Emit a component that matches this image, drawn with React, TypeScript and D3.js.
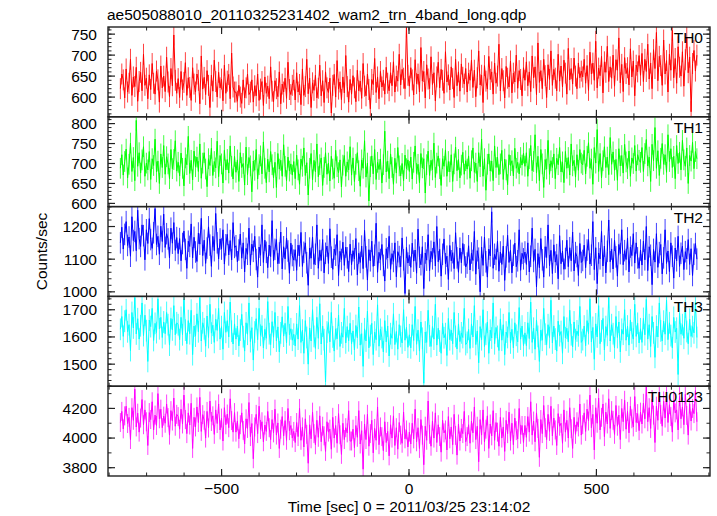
import React from 'react';
import * as d3 from 'd3';

const TITLE = 'ae505088010_20110325231402_wam2_trn_4band_long.qdp';
const X_LABEL = 'Time [sec] 0 = 2011/03/25 23:14:02';
const Y_LABEL = 'Counts/sec';
const T_START = -770;
const T_END = 768;

const th0 = [
  620, 655, 641, 598, 667, 612, 633, 690, 604, 648, 625, 671, 590, 637, 659, 615, 702, 628, 645, 596,
  653, 618, 680, 633, 607, 662, 641, 588, 674, 622, 650, 613, 695, 636, 601, 668, 627, 748, 640, 609,
  644, 599, 661, 617, 635, 682, 604, 646, 623, 592, 670, 631, 612, 655, 640, 584, 698, 619, 647, 606,
  663, 628, 575, 652, 614, 688, 637, 600, 659, 622, 643, 591, 676, 609, 638, 654, 596, 705, 624, 612,
  612, 590, 628, 600, 585, 641, 598, 622, 655, 606, 612, 641, 588, 627, 603, 655, 592, 619, 637, 580,
  648, 609, 626, 596, 672, 614, 589, 639, 620, 601, 660, 584, 631, 612, 645, 597, 683, 618, 606, 628,
  641, 593, 658, 612, 630, 582, 667, 604, 625, 690, 608, 645, 575, 634, 616, 652, 598, 621, 676, 603,
  639, 587, 660, 622, 611, 645, 562, 628, 654, 600, 687, 619, 636, 594, 648, 610, 699, 625, 588, 642,
  607, 651, 622, 589, 664, 615, 638, 597, 680, 626, 603, 655, 618, 572, 642, 630, 692, 611, 648, 596,
  661, 624, 640, 607, 671, 633, 615, 658, 627, 684, 612, 650, 638, 702, 629, 666, 645, 620, 767, 652,
  626, 670, 641, 605, 689, 632, 655, 612, 718, 638, 661, 598, 677, 643, 620, 696, 630, 658, 591, 648,
  683, 622, 666, 640, 609, 708, 636, 653, 617, 672, 644, 599, 690, 627, 660, 614, 679, 647, 631, 668,
  612, 657, 640, 688, 623, 664, 601, 646, 710, 629, 652, 587, 675, 638, 619, 697, 642, 660, 607, 681,
  633, 650, 726, 615, 668, 639, 598, 673, 645, 624, 686, 610, 657, 636, 700, 621, 663, 642, 603, 670,
  640, 684, 627, 660, 613, 698, 646, 672, 606, 729, 635, 663, 620, 690, 651, 599, 677, 642, 710, 628,
  666, 645, 615, 702, 638, 674, 624, 688, 657, 607, 716, 641, 668, 631, 693, 650, 620, 681, 646, 662,
  648, 690, 633, 675, 616, 707, 655, 681, 640, 733, 622, 669, 651, 697, 610, 684, 659, 721, 637, 672,
  645, 700, 626, 689, 664, 741, 634, 678, 613, 694, 656, 670, 629, 715, 648, 686, 603, 676, 660, 699,
  652, 704, 637, 690, 661, 726, 643, 681, 620, 713, 668, 754, 639, 697, 675, 628, 736, 655, 687, 612,
  702, 664, 759, 646, 692, 633, 720, 671, 650, 708, 626, 689, 742, 658, 695, 565, 680, 711, 662, 700,
];

const th1 = [
  688, 722, 671, 705, 736, 664, 698, 751, 680, 715, 657, 808, 693, 727, 676, 709, 742, 668, 701, 684,
  730, 660, 712, 695, 761, 679, 706, 650, 724, 690, 745, 673, 717, 699, 662, 735, 687, 710, 757, 681,
  703, 669, 726, 688, 644, 714, 697, 768, 675, 708, 659, 731, 692, 716, 680, 749, 663, 701, 727, 686,
  642, 712, 695, 738, 670, 705, 689, 756, 667, 720, 699, 651, 733, 684, 710, 676, 744, 693, 661, 718,
  678, 709, 655, 727, 690, 700, 646, 741, 672, 715, 694, 629, 706, 683, 735, 661, 697, 719, 674, 754,
  688, 652, 711, 679, 730, 697, 664, 703, 640, 725, 686, 708, 668, 747, 693, 657, 716, 681, 699, 671,
  705, 662, 721, 684, 648, 711, 693, 739, 670, 702, 621, 688, 725, 659, 708, 679, 749, 667, 697, 714,
  645, 690, 727, 673, 701, 656, 718, 686, 663, 733, 692, 677, 709, 641, 696, 720, 668, 704, 684, 742,
  671, 714, 655, 698, 727, 682, 643, 709, 688, 757, 666, 701, 606, 692, 719, 674, 735, 660, 703, 685,
  711, 651, 697, 781, 679, 706, 662, 724, 690, 648, 713, 676, 740, 694, 669, 700, 657, 721, 687, 709,
  680, 716, 661, 703, 744, 675, 698, 652, 725, 689, 712, 626, 697, 731, 670, 708, 684, 751, 665, 701,
  719, 687, 645, 712, 693, 734, 668, 705, 679, 722, 655, 699, 741, 682, 710, 664, 696, 728, 673, 707,
  686, 719, 663, 707, 739, 678, 701, 655, 727, 692, 761, 668, 712, 633, 698, 724, 681, 706, 657, 744,
  690, 716, 672, 699, 733, 660, 711, 684, 647, 722, 695, 707, 669, 738, 688, 703, 674, 715, 696, 726,
  693, 727, 668, 712, 745, 682, 705, 772, 676, 718, 657, 735, 699, 640, 710, 686, 758, 673, 707, 690,
  724, 662, 713, 697, 740, 679, 704, 652, 730, 688, 715, 671, 749, 694, 708, 666, 722, 683, 735, 701,
  697, 733, 674, 718, 752, 688, 711, 648, 740, 701, 785, 680, 725, 664, 707, 742, 690, 716, 672, 765,
  698, 729, 683, 710, 658, 737, 694, 720, 676, 748, 704, 687, 731, 668, 714, 700, 745, 681, 722, 708,
  703, 740, 680, 725, 760, 694, 716, 655, 748, 707, 790, 688, 732, 670, 713, 750, 698, 722, 678, 772,
  705, 737, 690, 718, 662, 745, 700, 728, 684, 758, 709, 693, 739, 650, 720, 706, 753, 687, 730, 712,
];

const th2 = [
  1150, 1198, 1131, 1176, 1215, 1142, 1168, 1109, 1230, 1157, 1185, 1126, 1250, 1163, 1139, 1205, 1172, 1098, 1190, 1148,
  1224, 1160, 1133, 1181, 1255, 1145, 1170, 1115, 1201, 1154, 1238, 1136, 1178, 1162, 1104, 1195, 1149, 1212, 1127, 1166,
  1117, 1163, 1095, 1148, 1186, 1130, 1072, 1155, 1139, 1208, 1104, 1167, 1122, 1093, 1180, 1146, 1225, 1111, 1158, 1087,
  1134, 1199, 1143, 1078, 1170, 1126, 1240, 1150, 1101, 1162, 1131, 1190, 1085, 1144, 1176, 1113, 1157, 1098, 1212, 1136,
  1141, 1092, 1128, 1177, 1103, 1150, 1061, 1133, 1115, 1195, 1082, 1146, 1124, 1170, 1099, 1045, 1137, 1112, 1205, 1090,
  1158, 1121, 1074, 1143, 1108, 1218, 1095, 1130, 1160, 1086, 1119, 1183, 1070, 1138, 1101, 1165, 1125, 1057, 1149, 1111,
  1097, 1129, 1066, 1143, 1110, 1182, 1078, 1121, 1150, 1089, 1020, 1134, 1103, 1168, 1084, 1115, 1205, 1072, 1127, 1096,
  1160, 1058, 1118, 1140, 1087, 1193, 1106, 1069, 1131, 1112, 1175, 1050, 1124, 1099, 1152, 1081, 1137, 1104, 1062, 1146,
  1083, 1126, 1101, 1163, 1052, 1118, 1090, 1140, 1071, 1188, 1107, 1036, 1129, 1095, 1155, 1078, 1112, 1210, 1060, 1121,
  1099, 1145, 1081, 1033, 1132, 1104, 1170, 1069, 1117, 1093, 1150, 1046, 1123, 1108, 1077, 1165, 1098, 995, 1136, 1088,
  1112, 1075, 1149, 1094, 1128, 1057, 1192, 1106, 1083, 1138, 1010, 1119, 1097, 1175, 1065, 1124, 1101, 1153, 1079, 1200,
  1092, 1130, 1048, 1115, 1162, 1086, 1109, 1038, 1142, 1095, 1120, 1071, 1181, 1104, 1060, 1134, 1089, 1148, 1113, 1076,
  1088, 1141, 1067, 1119, 1096, 1185, 1054, 1126, 1103, 1000, 1137, 1081, 1168, 1092, 1045, 1131, 1110, 1245, 1072, 1115,
  1099, 1155, 1063, 1122, 1084, 1140, 1035, 1107, 1173, 1090, 1127, 1058, 1112, 1149, 1077, 1095, 1190, 1066, 1118, 1101,
  1122, 1084, 1150, 1061, 1109, 1195, 1093, 1130, 1015, 1117, 1074, 1163, 1098, 1045, 1138, 1105, 1205, 1080, 1127, 1056,
  1144, 1091, 1114, 1040, 1172, 1086, 1125, 1069, 1102, 1158, 1077, 1135, 1095, 1183, 1064, 1120, 1108, 1050, 1148, 1090,
  1096, 1143, 1074, 1128, 1160, 1085, 1112, 1215, 1068, 1135, 1025, 1119, 1101, 1185, 1079, 1140, 1058, 1124, 1220, 1092,
  1131, 1070, 1158, 1107, 1048, 1145, 1117, 1190, 1083, 1126, 1099, 1165, 1061, 1137, 1111, 1178, 1088, 1150, 1104, 1072,
  1128, 1082, 1155, 1098, 1200, 1065, 1138, 1112, 1022, 1130, 1091, 1178, 1075, 1120, 1145, 1055, 1104, 1190, 1087, 1125,
  1062, 1150, 1109, 1042, 1134, 1095, 1170, 1078, 1118, 1140, 1068, 1123, 1101, 1160, 1084, 1132, 1050, 1115, 1148, 1100,
];

const th3 = [
  1628, 1675, 1602, 1658, 1700, 1619, 1645, 1550, 1690, 1633, 1745, 1611, 1667, 1592, 1641, 1725, 1605, 1680, 1623, 1510,
  1662, 1638, 1705, 1587, 1650, 1616, 1740, 1630, 1672, 1598, 1655, 1612, 1690, 1645, 1570, 1668, 1626, 1715, 1608, 1652,
  1645, 1590, 1672, 1608, 1738, 1625, 1575, 1660, 1612, 1698, 1535, 1640, 1603, 1685, 1619, 1745, 1585, 1652, 1630, 1566,
  1677, 1598, 1720, 1614, 1643, 1580, 1665, 1624, 1705, 1592, 1638, 1555, 1690, 1617, 1660, 1600, 1728, 1621, 1574, 1648,
  1592, 1640, 1567, 1625, 1683, 1601, 1548, 1652, 1610, 1725, 1583, 1634, 1515, 1618, 1667, 1590, 1705, 1606, 1641, 1560,
  1628, 1595, 1730, 1612, 1572, 1656, 1599, 1690, 1585, 1637, 1545, 1615, 1674, 1603, 1650, 1578, 1712, 1608, 1630, 1588,
  1610, 1567, 1648, 1592, 1715, 1580, 1625, 1540, 1660, 1598, 1500, 1633, 1585, 1700, 1602, 1558, 1672, 1595, 1722, 1574,
  1640, 1590, 1435, 1618, 1653, 1582, 1690, 1600, 1548, 1630, 1593, 1680, 1565, 1615, 1599, 1705, 1578, 1638, 1586, 1650,
  1575, 1622, 1552, 1642, 1597, 1710, 1570, 1612, 1492, 1630, 1585, 1695, 1560, 1605, 1650, 1535, 1618, 1590, 1718, 1566,
  1628, 1598, 1545, 1660, 1582, 1640, 1530, 1612, 1595, 1685, 1572, 1620, 1555, 1645, 1602, 1578, 1700, 1588, 1635, 1562,
  1608, 1560, 1645, 1587, 1712, 1573, 1625, 1548, 1655, 1595, 1430, 1618, 1580, 1698, 1604, 1565, 1638, 1592, 1720, 1570,
  1632, 1585, 1540, 1650, 1597, 1612, 1532, 1668, 1590, 1625, 1575, 1690, 1602, 1556, 1648, 1583, 1615, 1598, 1705, 1572,
  1580, 1628, 1558, 1648, 1600, 1715, 1572, 1622, 1505, 1638, 1590, 1700, 1565, 1610, 1655, 1540, 1625, 1596, 1725, 1575,
  1635, 1602, 1550, 1665, 1588, 1645, 1535, 1618, 1598, 1690, 1578, 1628, 1560, 1652, 1606, 1582, 1708, 1592, 1640, 1568,
  1615, 1568, 1652, 1594, 1728, 1580, 1632, 1555, 1662, 1602, 1510, 1625, 1588, 1705, 1610, 1572, 1645, 1598, 1735, 1578,
  1640, 1592, 1548, 1658, 1605, 1620, 1540, 1675, 1597, 1632, 1582, 1698, 1608, 1563, 1655, 1590, 1622, 1604, 1712, 1580,
  1590, 1640, 1568, 1660, 1612, 1740, 1582, 1635, 1518, 1648, 1600, 1715, 1575, 1622, 1668, 1552, 1638, 1606, 1745, 1585,
  1645, 1612, 1560, 1675, 1598, 1655, 1545, 1628, 1610, 1700, 1588, 1640, 1570, 1662, 1615, 1592, 1720, 1602, 1650, 1578,
  1630, 1580, 1668, 1608, 1738, 1592, 1645, 1565, 1675, 1615, 1525, 1640, 1600, 1725, 1622, 1585, 1658, 1610, 1735, 1590,
  1652, 1605, 1560, 1672, 1618, 1632, 1462, 1688, 1610, 1645, 1595, 1710, 1620, 1575, 1665, 1602, 1638, 1615, 1728, 1598,
];

const th0123 = [
  4105, 4180, 4062, 4150, 4215, 4098, 4140, 3990, 4205, 4120, 4330, 4075, 4168, 4040, 4135, 4260, 4090, 4190, 4110, 3950,
  4172, 4125, 4245, 4055, 4155, 4085, 4300, 4130, 4195, 4070, 4148, 4100, 4230, 4138, 4020, 4185, 4115, 4270, 4080, 4160,
  4145, 4060, 4195, 4095, 4290, 4125, 4030, 4170, 4088, 4235, 3930, 4140, 4075, 4210, 4105, 4275, 4045, 4158, 4120, 4000,
  4180, 4068, 4250, 4112, 4150, 4025, 4190, 4098, 4230, 4055, 4135, 3980, 4205, 4090, 4162, 4070, 4265, 4118, 4040, 4172,
  4040, 4115, 3995, 4090, 4170, 4052, 3960, 4130, 4065, 4240, 4010, 4098, 3860, 4075, 4160, 4030, 4215, 4058, 4110, 3975,
  4088, 4045, 4180, 4070, 3990, 4125, 4035, 4195, 4020, 4102, 3930, 4060, 4145, 4015, 4118, 3985, 4200, 4050, 4085, 4000,
  4045, 3970, 4105, 4010, 4200, 3985, 4075, 3940, 4130, 4025, 3830, 4090, 3995, 4175, 4030, 3955, 4120, 4005, 4150, 3975,
  4080, 4015, 3910, 4110, 4040, 4060, 3925, 4140, 4000, 4085, 3965, 4165, 4022, 3890, 4100, 3990, 4070, 4035, 4185, 3980,
  3980, 4060, 3935, 4085, 4005, 4185, 3960, 4050, 3790, 4095, 3990, 4160, 3945, 4030, 4120, 3900, 4065, 3985, 4210, 3955,
  4075, 4010, 3915, 4110, 3970, 4045, 3880, 4090, 4000, 4150, 3950, 4070, 3925, 4105, 4020, 3965, 4175, 3995, 4055, 3940,
  4040, 3960, 4100, 3995, 4195, 3975, 4070, 3930, 4125, 4020, 3820, 4080, 3985, 4250, 4025, 3945, 4115, 4000, 4170, 3970,
  4090, 4010, 3905, 4120, 4035, 4055, 3920, 4145, 3995, 4075, 3955, 4160, 4018, 3885, 4095, 3980, 4065, 4030, 4180, 3975,
  4010, 4090, 3965, 4115, 4035, 4210, 3990, 4080, 3840, 4125, 4020, 4190, 3975, 4060, 4150, 3930, 4095, 4015, 4185, 3985,
  4105, 4040, 3945, 4140, 4000, 4075, 3910, 4120, 4030, 4175, 3980, 4100, 3955, 4135, 4050, 3995, 4200, 4025, 4085, 3970,
  4085, 4005, 4145, 4040, 4245, 4020, 4115, 3975, 4170, 4065, 3870, 4125, 4030, 4220, 4070, 3990, 4160, 4045, 4215, 4015,
  4135, 4055, 3950, 4165, 4080, 4100, 3965, 4190, 4040, 4120, 4000, 4205, 4063, 3930, 4140, 4025, 4110, 4075, 4230, 4020,
  4090, 4170, 4045, 4195, 4115, 4290, 4070, 4160, 3920, 4205, 4100, 4270, 4055, 4140, 4230, 4010, 4175, 4095, 4265, 4065,
  4185, 4120, 4025, 4220, 4080, 4155, 3990, 4200, 4110, 4255, 4060, 4180, 4035, 4215, 4130, 4075, 4280, 4105, 4165, 4050,
  4175, 4095, 4235, 4130, 4345, 4110, 4205, 4065, 4260, 4155, 3970, 4215, 4120, 4310, 4160, 4080, 4250, 4135, 4290, 4105,
  4225, 4145, 4040, 4255, 4170, 4190, 4055, 4280, 4130, 4210, 4090, 4295, 4153, 4020, 4230, 4115, 4200, 4165, 4320, 4110,
];

// 1-sigma error of each bin (counts/sec), one per band
const panelErrors = [25, 26, 33, 40, 64];

const panelNames = ['TH0', 'TH1', 'TH2', 'TH3', 'TH0123'];
const panelData = [th0, th1, th2, th3, th0123];
const panelColors = ['#ff0000', '#00ff00', '#0000ff', '#00ffff', '#ff00ff'];
const panelDomains: [number, number][] = [[553, 767], [592, 817], [986, 1261], [1419, 1749], [3744, 4350]];
const panelMajor = [
  [600, 650, 700, 750],
  [600, 650, 700, 750, 800],
  [1000, 1100, 1200],
  [1500, 1600, 1700],
  [3800, 4000, 4200],
];
const panelMinorStep = [10, 10, 20, 20, 100];
const xMajorTicks = [-500, 0, 500];
const xMinorStep = 100;
const xDomain: [number, number] = [-803, 803];

const W = 717;
const H = 516;
const LEFT = 108;
const RIGHT = 710;
const TOP = 27;
const PH = 89.8;
const FONT = '"Liberation Sans", Arial, Helvetica, sans-serif';

export default function App() {
  const x = d3.scaleLinear().domain(xDomain).range([LEFT, RIGHT]);
  const xMinor = d3.range(Math.ceil(xDomain[0] / xMinorStep) * xMinorStep, xDomain[1] + 0.001, xMinorStep);
  const bottom = TOP + PH * 5;

  return (
    <svg width={W} height={H} style={{ position: 'absolute', left: 0, top: 0, background: '#fff' }} fontFamily={FONT}>
      <rect x={0} y={0} width={W} height={H} fill="#fff" />
      <text x={107} y={20} fontSize={15.5} fill="#000">{TITLE}</text>
      {panelNames.map((name, pi) => {
        const y0 = TOP + pi * PH;
        const y1 = y0 + PH;
        const data = panelData[pi];
        const err = panelErrors[pi];
        const dom = panelDomains[pi];
        const y = d3.scaleLinear().domain(dom).range([y1, y0]);
        const n = data.length;
        const tScale = d3.scaleLinear().domain([0, n - 1]).range([T_START, T_END]);
        const line = d3.line<number>().x((_, i) => x(tScale(i))).y((d) => y(d));
        const errPath = data
          .map((d, i) => {
            const px = x(tScale(i)).toFixed(2);
            return `M${px},${y(d + err).toFixed(2)}V${y(d - err).toFixed(2)}`;
          })
          .join('');
        const step = panelMinorStep[pi];
        const yMinor = d3.range(Math.ceil(dom[0] / step) * step, dom[1] + 0.001, step);
        const clipId = `clip${pi}`;
        return (
          <g key={name}>
            <defs>
              <clipPath id={clipId}>
                <rect x={LEFT} y={y0} width={RIGHT - LEFT} height={PH} />
              </clipPath>
            </defs>
            <g clipPath={`url(#${clipId})`}>
              <path d={errPath} fill="none" stroke={panelColors[pi]} strokeWidth={1} strokeOpacity={0.75} />
              <path d={line(data) || ''} fill="none" stroke={panelColors[pi]} strokeWidth={1} strokeLinejoin="bevel" />
            </g>
            <text x={703} y={y0 + 16} fontSize={15.5} textAnchor="end" fill="#000">{name}</text>
            {yMinor.map((v) => (
              <g key={`ym${v}`} stroke="#222" strokeWidth={1}>
                <line x1={LEFT} x2={LEFT + 3.5} y1={y(v)} y2={y(v)} />
                <line x1={RIGHT} x2={RIGHT - 3.5} y1={y(v)} y2={y(v)} />
              </g>
            ))}
            {panelMajor[pi].map((v) => (
              <g key={`yM${v}`}>
                <line x1={LEFT} x2={LEFT + 7} y1={y(v)} y2={y(v)} stroke="#222" strokeWidth={1.2} />
                <line x1={RIGHT} x2={RIGHT - 7} y1={y(v)} y2={y(v)} stroke="#222" strokeWidth={1.2} />
                <text x={97} y={y(v)} dy="0.35em" fontSize={15.5} textAnchor="end" fill="#000">{v}</text>
              </g>
            ))}
            {xMinor.map((v) => (
              <g key={`xm${v}`} stroke="#222" strokeWidth={1}>
                <line x1={x(v)} x2={x(v)} y1={y0} y2={y0 + 3.5} />
                <line x1={x(v)} x2={x(v)} y1={y1} y2={y1 - 3.5} />
              </g>
            ))}
            {xMajorTicks.map((v) => (
              <g key={`xM${v}`} stroke="#222" strokeWidth={1.2}>
                <line x1={x(v)} x2={x(v)} y1={y0} y2={y0 + 7} />
                <line x1={x(v)} x2={x(v)} y1={y1} y2={y1 - 7} />
              </g>
            ))}
            <rect x={LEFT} y={y0} width={RIGHT - LEFT} height={PH} fill="none" stroke="#222" strokeWidth={1.4} />
          </g>
        );
      })}
      {xMajorTicks.map((v) => (
        <text key={`xl${v}`} x={x(v)} y={bottom + 18} fontSize={15.5} textAnchor="middle" fill="#000">
          {v < 0 ? `\u2212${Math.abs(v)}` : `${v}`}
        </text>
      ))}
      <text x={x(0)} y={bottom + 36} fontSize={15.5} textAnchor="middle" fill="#000">{X_LABEL}</text>
      <text transform={`translate(47, ${(TOP + bottom) / 2}) rotate(-90)`} fontSize={15.5} textAnchor="middle" fill="#000">{Y_LABEL}</text>
    </svg>
  );
}
